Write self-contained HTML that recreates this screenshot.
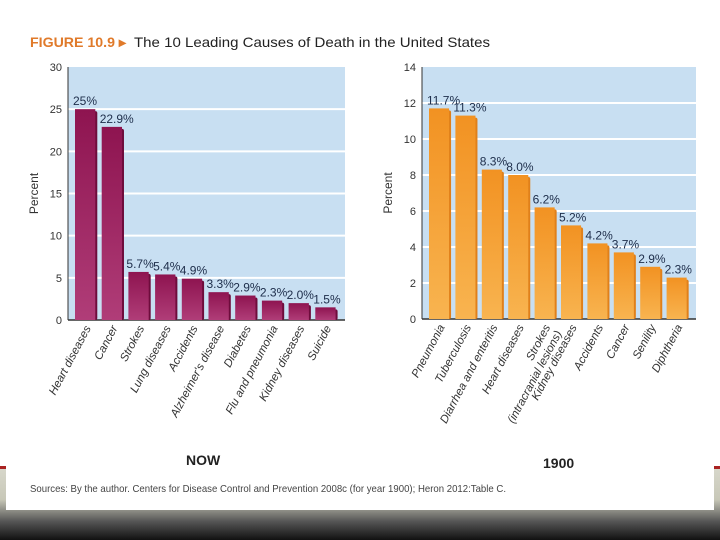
<!DOCTYPE html>
<html><head><meta charset="utf-8"><style>
html,body{margin:0;padding:0;width:720px;height:540px;overflow:hidden;background:#fff;font-family:"Liberation Sans",sans-serif}
#bg{position:absolute;left:0;top:466px;width:720px;height:74px;background:linear-gradient(#d8d8cc 0%,#c8c8b8 45%,#555 75%,#111 100%)}
#redl{position:absolute;left:0;top:466px;width:6px;height:3px;background:#a22}
#redr{position:absolute;left:714px;top:466px;width:6px;height:3px;background:#a22}
#card{position:absolute;left:6px;top:0;width:708px;height:510px;background:#fff}
svg{position:absolute;left:0;top:0}
</style></head><body>
<div id="bg"></div>
<div id="redl"></div>
<div id="redr"></div>
<div id="card"></div>
<svg id="s" width="720" height="540">
<text x="30" y="47" font-size="14" font-weight="bold" fill="#e07a2a" textLength="96" lengthAdjust="spacingAndGlyphs">FIGURE 10.9 ▸</text>
<text x="134" y="47" font-size="14" fill="#222" textLength="356" lengthAdjust="spacingAndGlyphs">The 10 Leading Causes of Death in the United States</text>
<text x="186" y="465" font-size="14" font-weight="bold" fill="#222">NOW</text>
<text x="543" y="468" font-size="14" font-weight="bold" fill="#222">1900</text>
<text x="30" y="492" font-size="10.5" fill="#444" textLength="476" lengthAdjust="spacingAndGlyphs">Sources: By the author. Centers for Disease Control and Prevention 2008c (for year 1900); Heron 2012:Table C.</text>
<defs>
<linearGradient id="gp" x1="0" y1="0" x2="0" y2="1"><stop offset="0" stop-color="#8e1450"/><stop offset="1" stop-color="#b03d78"/></linearGradient>
<linearGradient id="go" x1="0" y1="0" x2="0" y2="1"><stop offset="0" stop-color="#f29222"/><stop offset="1" stop-color="#f8b450"/></linearGradient>
</defs>
</svg>
<script>
const nowCats=["Heart diseases","Cancer","Strokes","Lung diseases","Accidents","Alzheimer's disease","Diabetes","Flu and pneumonia","Kidney diseases","Suicide"];
const nowVals=[25,22.9,5.7,5.4,4.9,3.3,2.9,2.3,2.0,1.5];
const nowLabels=["25%","22.9%","5.7%","5.4%","4.9%","3.3%","2.9%","2.3%","2.0%","1.5%"];
const nowTicks=[0,5,10,15,20,25,30];
const oldCats=["Pneumonia","Tuberculosis","Diarrhea and enteritis","Heart diseases","Strokes|(intracranial lesions)","Kidney diseases","Accidents","Cancer","Senility","Diphtheria"];
const oldVals=[11.7,11.3,8.3,8.0,6.2,5.2,4.2,3.7,2.9,2.3];
const oldLabels=["11.7%","11.3%","8.3%","8.0%","6.2%","5.2%","4.2%","3.7%","2.9%","2.3%"];
const oldTicks=[0,2,4,6,8,10,12,14];
const svg=document.getElementById('s');
const NS='http://www.w3.org/2000/svg';
function mk(t,a,p){const e=document.createElementNS(NS,t);for(const k in a)e.setAttribute(k,a[k]);(p||svg).appendChild(e);return e;}
function chart(cfg){
  const {x0,x1,yTop,yBot,max,ticks,cats,vals,labels,fill,side,name}=cfg;
  const y=v=>yBot-(v/max)*(yBot-yTop);
  const g=mk('g',{});
  
  
  const bgr=mk('rect',{x:x0,y:yTop,width:x1-x0,height:yBot-yTop,fill:'#c8dff2'},g);
  
  
  ticks.forEach(t=>{
    if(t>0&&t<max){const l=mk('line',{x1:x0,x2:x1,y1:y(t),y2:y(t),stroke:'#fff','stroke-width':2},g);
      
      }
    const tx=mk('text',{x:x0-6,y:y(t)+4,'font-size':11,fill:'#333','text-anchor':'end'},g);
    tx.textContent=t;
    
    
  });
  const ax=mk('line',{x1:x0,x2:x0,y1:yTop,y2:yBot,stroke:'#333','stroke-width':1},g);
  
  
  const bx=mk('line',{x1:x0,x2:x1,y1:yBot,y2:yBot,stroke:'#333','stroke-width':1.5},g);
  
  
  const yt=mk('text',{x:0,y:0,'font-size':12,fill:'#333','text-anchor':'middle',transform:`translate(${x0-30},${(yTop+yBot)/2}) rotate(-90)`},g);
  yt.textContent='Percent';
  
  
  const step=(x1-x0-10)/cats.length;
  vals.forEach((v,i)=>{
    const bx0=x0+7+i*step, w=step*0.76;
    const s=mk('rect',{x:bx0+w-4,y:y(v)+2,width:6,height:yBot-y(v)-2,rx:2,fill:side},g);
    
    
    const b=mk('rect',{x:bx0,y:y(v),width:w,height:yBot-y(v),fill:`url(#${fill})`},g);
    
    
    const lt=mk('text',{x:bx0-2,y:y(v)-4,'font-size':12,fill:'#1d2d4a'},g);
    lt.textContent=labels[i];
    
    
    const cx=bx0+w/2+6;
    const parts=cats[i].split('|');
    parts.forEach((p,j)=>{
      const ct=mk('text',{x:0,y:j*13,'font-size':11.5,'font-style':'italic',fill:'#333','text-anchor':'end',transform:`translate(${cx},${yBot+8}) rotate(-62)`},g);
      ct.textContent=p;
      
      
    });
  });
}
chart({x0:68,x1:345,yTop:67,yBot:320,max:30,ticks:nowTicks,cats:nowCats,vals:nowVals,labels:nowLabels,fill:'gp',side:'#6e0c3c',name:'now-chart'});
chart({x0:422,x1:696,yTop:67,yBot:319,max:14,ticks:oldTicks,cats:oldCats,vals:oldVals,labels:oldLabels,fill:'go',side:'#e0801a',name:'chart-1900'});
</script>
</body></html>
